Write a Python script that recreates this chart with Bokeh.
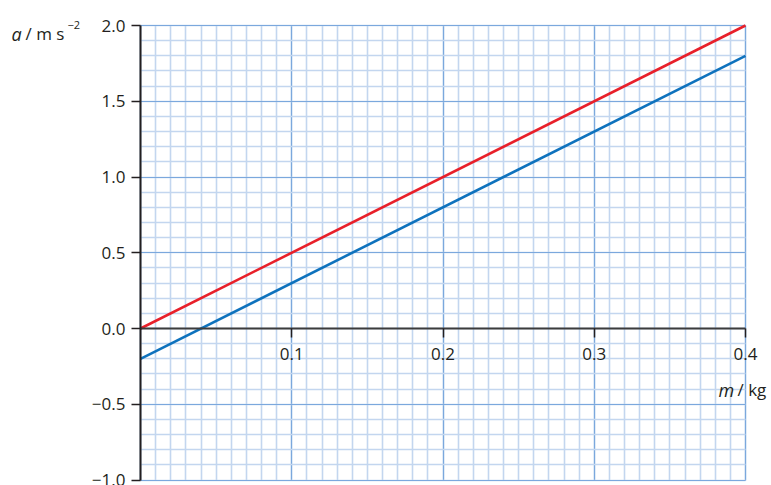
from bokeh.plotting import figure
from bokeh.models import (LinearAxis, FixedTicker, SingleIntervalTicker, Label, Range1d, Grid)
from bokeh.embed import file_html
from bokeh.resources import INLINE

# Data
mass = [0.0, 0.4]
accel_red = [0.0, 2.0]
accel_blue = [-0.2, 1.8]
x_ticks = [0.1, 0.2, 0.3, 0.4]
x_tick_labels = ["0.1", "0.2", "0.3", "0.4"]
y_ticks = [-1.0, -0.5, 0.0, 0.5, 1.0, 1.5, 2.0]
y_tick_labels = ["\u22121.0", "\u22120.5", "0.0", "0.5", "1.0", "1.5", "2.0"]

FONT = "Open Sans"
FS = "17px"

W, H = 771, 485
X0PX, X1PX = 140, 745      # pixel positions of x = 0 and x = 0.4
Y2PX, Y0PX = 25, 328       # pixel positions of y = 2.0 and y = 0
sx = (X1PX - X0PX) / 0.4
sy = (Y0PX - Y2PX) / 2.0

x_start = 0 - X0PX / sx
x_end = 0.4 + (W - X1PX) / sx
y_end = 2.0 + Y2PX / sy
y_start = 0 - (H - Y0PX) / sy

p = figure(width=W, height=H, output_backend="svg", toolbar_location=None,
           x_range=Range1d(x_start, x_end), y_range=Range1d(y_start, y_end),
           x_axis_type=None, y_axis_type=None,
           min_border=0)
p.outline_line_color = None
p.background_fill_color = "white"

# Grids
xg = Grid(dimension=0, ticker=SingleIntervalTicker(interval=0.1, num_minor_ticks=10),
          bounds=(0, 0.4), cross_bounds=(-1.0, 2.0))
yg = Grid(dimension=1, ticker=SingleIntervalTicker(interval=0.5, num_minor_ticks=5),
          bounds=(-1.0, 2.0), cross_bounds=(0, 0.4))
for g in (xg, yg):
    g.grid_line_color = "#7ba8dd"
    g.grid_line_width = 1.2
    g.minor_grid_line_color = "#c3d6ef"
    g.minor_grid_line_width = 1.6
    g.level = "underlay"
    p.add_layout(g)

# Lines
p.line(mass, accel_red, line_color="#e8202a", line_width=2.6)
p.line(mass, accel_blue, line_color="#0e72bd", line_width=2.6)

# Y axis at x = 0
yax = LinearAxis(ticker=FixedTicker(ticks=y_ticks), fixed_location=0, bounds=(-1.0, 2.0),
                 major_label_overrides={t: l for t, l in zip(y_ticks, y_tick_labels)})
yax.axis_line_color = "#231f20"
yax.axis_line_width = 2
yax.major_tick_line_color = "#231f20"
yax.major_tick_line_width = 1.5
yax.major_tick_out = 9
yax.major_tick_in = 0
yax.minor_tick_out = 0
yax.major_label_standoff = 6
yax.major_label_text_font = FONT
yax.major_label_text_font_size = FS
yax.major_label_text_color = "#231f20"
p.add_layout(yax, "left")

# X axis at y = 0
xax = LinearAxis(ticker=FixedTicker(ticks=x_ticks), fixed_location=0, bounds=(0, 0.4),
                 major_label_overrides={t: l for t, l in zip(x_ticks, x_tick_labels)})
xax.axis_line_color = "#3c3c3c"
xax.axis_line_width = 2
xax.major_tick_line_color = "#231f20"
xax.major_tick_line_width = 1.5
xax.major_tick_out = 9
xax.major_tick_in = 0
xax.minor_tick_out = 0
xax.major_label_standoff = 10
xax.major_label_text_font = FONT
xax.major_label_text_font_size = FS
xax.major_label_text_color = "#231f20"
p.add_layout(xax, "below")

# Axis titles
def px_to_x(px):
    return (px - X0PX) / sx

def py_to_y(py):
    return (Y0PX - py) / sy

lab = dict(text_font=FONT, text_color="#231f20", text_baseline="alphabetic")
p.add_layout(Label(x=px_to_x(11), y=py_to_y(33), text="a", text_font_style="italic",
                   text_font_size="18px", **lab))
p.add_layout(Label(x=px_to_x(25), y=py_to_y(33), text="/ m s", text_font_size="17px", **lab))
p.add_layout(Label(x=px_to_x(67), y=py_to_y(24), text="\u22122", text_font_size="11px", **lab))
p.add_layout(Label(x=px_to_x(718), y=py_to_y(389), text="m", text_font_style="italic",
                   text_font_size="18px", **lab))
p.add_layout(Label(x=px_to_x(737), y=py_to_y(389), text="/ kg", text_font_size="17px", **lab))

open("out.html", "w").write(file_html(p, INLINE))
